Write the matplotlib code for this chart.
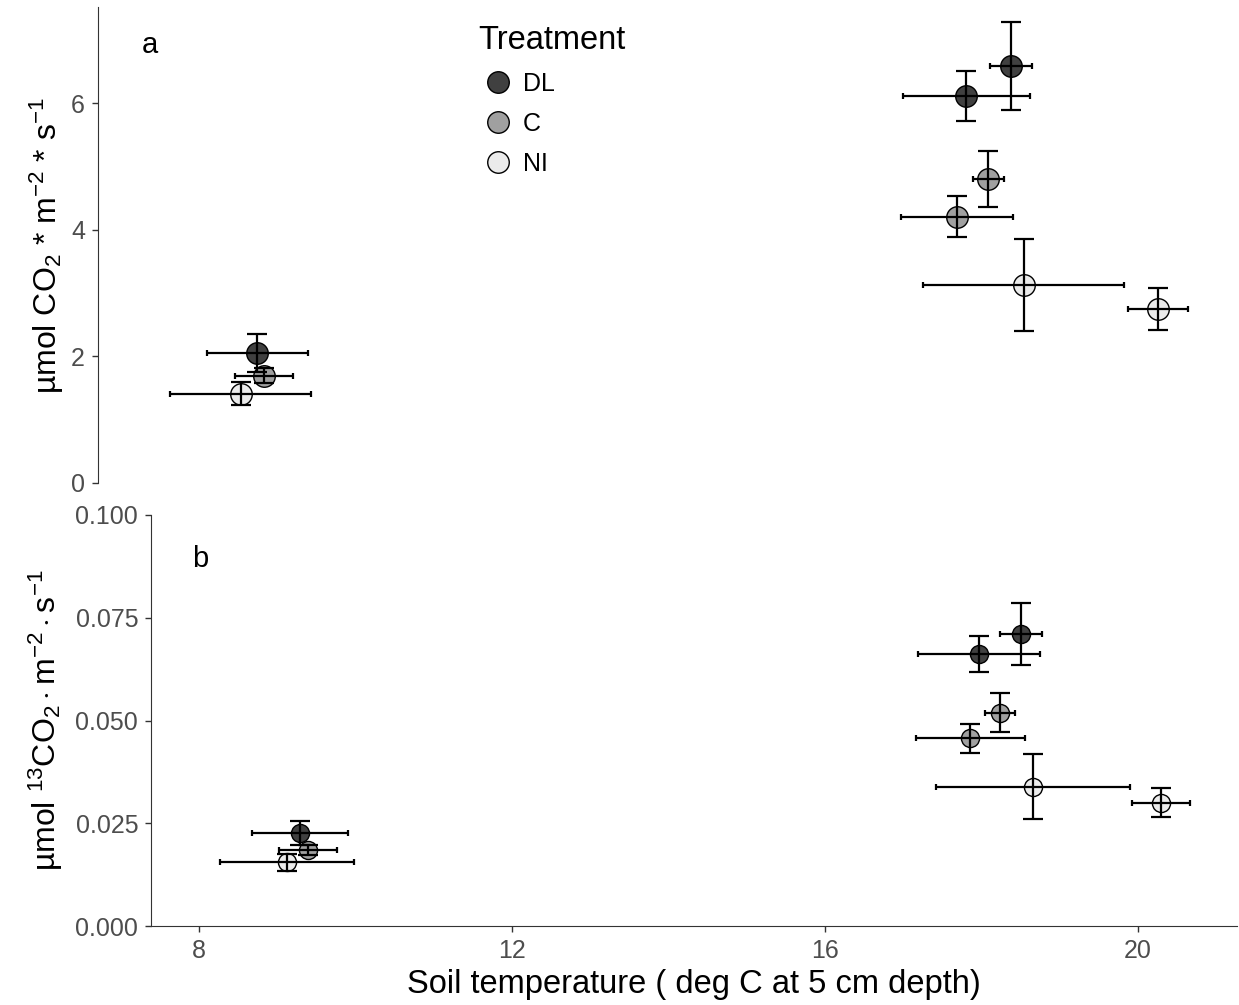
import matplotlib
matplotlib.use("Agg")
import matplotlib.pyplot as plt
from matplotlib.lines import Line2D

plt.rcParams['font.family'] = ['Liberation Sans', 'DejaVu Sans']
plt.rcParams['mathtext.fontset'] = 'custom'
plt.rcParams['mathtext.rm'] = 'Liberation Sans'
plt.rcParams['mathtext.it'] = 'Liberation Sans:italic'

treatments = ["DL", "C", "NI"]
fills = {"DL": "#404040", "C": "#a0a0a0", "NI": "#ebebeb"}

# panel a: total soil CO2 efflux
a_temp = {"DL": [8.74, 17.81, 18.38], "C": [8.83, 17.69, 18.09], "NI": [8.53, 18.54, 20.26]}
a_temp_se = {"DL": [0.645, 0.81, 0.27], "C": [0.37, 0.72, 0.20], "NI": [0.90, 1.29, 0.38]}
a_flux = {"DL": [2.05, 6.12, 6.59], "C": [1.69, 4.21, 4.80], "NI": [1.41, 3.13, 2.75]}
a_flux_se = {"DL": [0.30, 0.40, 0.70], "C": [0.12, 0.33, 0.44], "NI": [0.18, 0.73, 0.335]}

# panel b: 13CO2 efflux
b_temp = {"DL": [9.29, 17.97, 18.51], "C": [9.39, 17.86, 18.24], "NI": [9.12, 18.66, 20.30]}
b_temp_se = {"DL": [0.615, 0.78, 0.27], "C": [0.365, 0.70, 0.19], "NI": [0.86, 1.24, 0.37]}
b_flux = {"DL": [0.0226, 0.0662, 0.0710], "C": [0.0185, 0.0457, 0.0519], "NI": [0.0155, 0.0339, 0.0300]}
b_flux_se = {"DL": [0.0030, 0.0043, 0.0076], "C": [0.0012, 0.0035, 0.0048], "NI": [0.0020, 0.0079, 0.0035]}

W, H = 1239, 1005
fig = plt.figure(figsize=(W / 100, H / 100), dpi=100)

def px_axes(left, top, right, bottom):
    return fig.add_axes([left / W, 1 - bottom / H, (right - left) / W, (bottom - top) / H])

ax1 = px_axes(97.5, 7.3, 1237, 482.7)
ax2 = px_axes(150.7, 515, 1237, 926)

def draw(ax, temp, temp_se, flux, flux_se, msize):
    for t in treatments:
        ax.plot(temp[t], flux[t], 'o', ms=msize, mfc=fills[t], mec='black', mew=1.0, zorder=2)
        ax.errorbar(temp[t], flux[t], yerr=flux_se[t], fmt='none', ecolor='black',
                    elinewidth=1.6, capsize=7.5, capthick=1.6, zorder=3)
        ax.errorbar(temp[t], flux[t], xerr=temp_se[t], fmt='none', ecolor='black',
                    elinewidth=1.6, capsize=2.5, capthick=1.6, zorder=3)

draw(ax1, a_temp, a_temp_se, a_flux, a_flux_se, 15.5)
draw(ax2, b_temp, b_temp_se, b_flux, b_flux_se, 13)

for ax in (ax1, ax2):
    for s in ('top', 'right'):
        ax.spines[s].set_visible(False)
    ax.spines['left'].set_color('#333333')
    ax.spines['bottom'].set_color('#333333')
    ax.tick_params(direction='out', length=4, width=1, color='#333333',
                   labelcolor='#4d4d4d', labelsize=18, pad=5)

ax1.set_xlim(6.698, 21.27)
ax1.set_ylim(0, 7.52)
ax1.set_yticks([0, 2, 4, 6])
ax1.spines['bottom'].set_visible(False)
ax1.set_xticks([])

ax2.set_xlim(7.378, 21.27)
ax2.set_ylim(0, 0.100)
ax2.set_xticks([8, 12, 16, 20])
ax2.set_yticks([0, 0.025, 0.05, 0.075, 0.1])
ax2.set_yticklabels(["0.000", "0.025", "0.050", "0.075", "0.100"])

fig.text(150 / W, 1 - 45 / H, "a", fontsize=21, ha='center', va='center')
fig.text(200 / W, 1 - 559 / H, "b", fontsize=21, ha='center', va='center')

fig.text(47 / W, 1 - 245 / H, "µmol CO$_2$ * m$^{-2}$ * s$^{-1}$", rotation=90,
         fontsize=23, ha='center', va='center')
fig.text(46 / W, 1 - 720 / H, "µmol $^{13}$CO$_2\\cdot$m$^{-2}\\cdot$s$^{-1}$", rotation=90,
         fontsize=23, ha='center', va='center')
fig.text(694 / W, 1 - 984 / H, "Soil temperature ( deg C at 5 cm depth)",
         fontsize=23.5, ha='center', va='center')

handles = [Line2D([], [], marker='o', ls='none', ms=15.5, mfc=fills[t], mec='black', mew=1.0)
           for t in treatments]
leg = fig.legend(handles, treatments, loc='upper left', bbox_to_anchor=(468 / W, 1 - 15 / H),
                 frameon=False, title="Treatment", title_fontsize=23.5, fontsize=18,
                 handlelength=1.6, handletextpad=0.2, labelspacing=0.64, borderaxespad=0)
leg._legend_box.align = "left"

fig.savefig("out.png", dpi=100)
